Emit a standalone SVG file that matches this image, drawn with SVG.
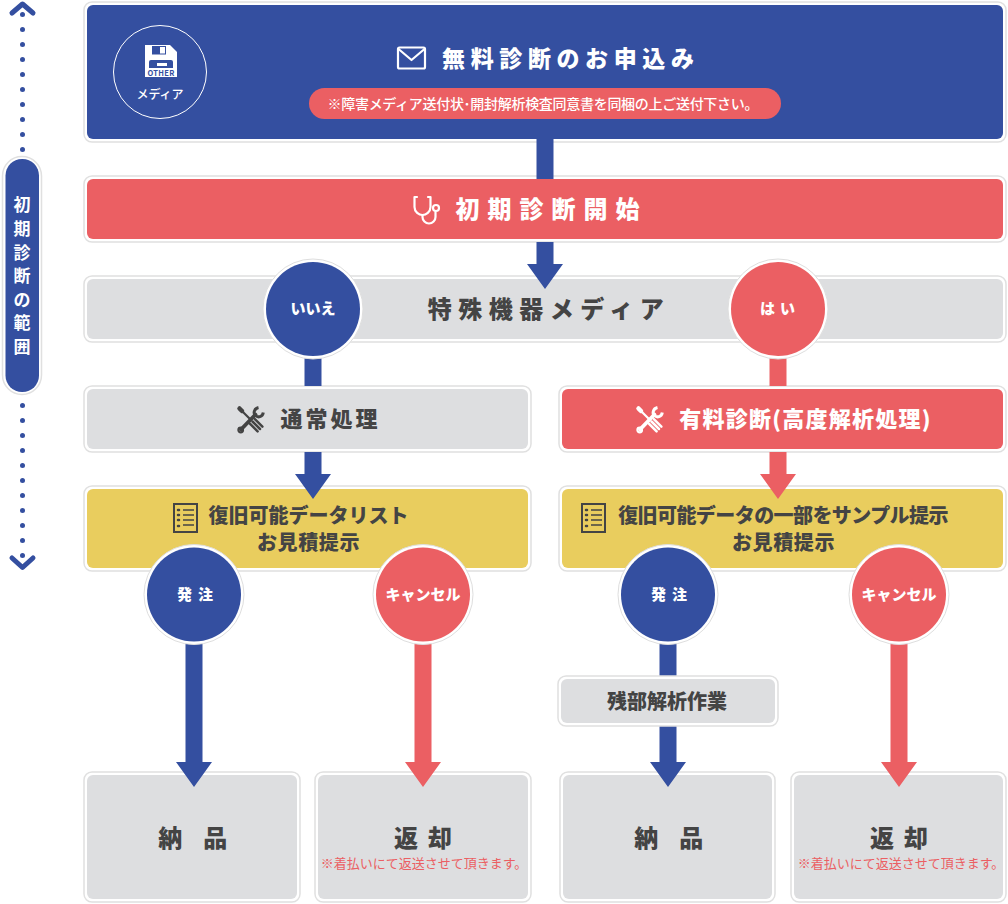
<svg xmlns="http://www.w3.org/2000/svg" width="1008" height="904" viewBox="0 0 1008 904">
<style>
text{font-family:"Noto Sans CJK JP","Noto Sans",sans-serif;font-weight:700;text-anchor:middle;fill:#444}
.w{fill:#fff}
.ring{fill:#fff;stroke:#e0e0e0;stroke-width:1.500}
.blue{fill:#344fa0}.red{fill:#eb5f63}.grey{fill:#dddee0}.yel{fill:#e9cd5e}
.cring{fill:#fff;stroke:#dedede;stroke-width:1}
.dot{fill:#344fa0}
.chev{fill:none;stroke:#344fa0;stroke-width:5;stroke-linecap:round;stroke-linejoin:round}
.ico{fill:none;stroke-width:2.200;stroke-linecap:round;stroke-linejoin:round}
.lb{font-weight:900}
</style>
<defs>
<g id="rowdots"><circle cx="22.5" cy="0" r="2.5" class="dot"/><circle cx="22.5" cy="15" r="2.5" class="dot"/><circle cx="22.5" cy="30" r="2.5" class="dot"/><circle cx="22.5" cy="45" r="2.5" class="dot"/><circle cx="22.5" cy="60" r="2.5" class="dot"/><circle cx="22.5" cy="75" r="2.5" class="dot"/><circle cx="22.5" cy="90" r="2.5" class="dot"/><circle cx="22.5" cy="105" r="2.5" class="dot"/><circle cx="22.5" cy="120" r="2.5" class="dot"/><circle cx="22.5" cy="135" r="2.5" class="dot"/></g>
<g id="tools" fill="none" stroke-linecap="round">
<path d="M2.500 2.500L5 5" stroke-width="4.500"/>
<path d="M4 4L13 13" stroke-width="2.200"/>
<path d="M15.500 15.500L23 23" stroke-width="2.500" transform="translate(2.400 -2.400)"/>
<path d="M15.500 15.500L23 23" stroke-width="2.500"/>
<path d="M15.500 15.500L23 23" stroke-width="2.500" transform="translate(-2.400 2.400)"/>
<path d="M4 23.500L18.500 8.500" stroke-width="3.800"/>
<circle cx="3.700" cy="24" r="2.300" stroke-width="2.200"/>
<path d="M21.500 1.500C17 2.500 16 7.500 18.500 9.500C21 12 25.500 11 26.300 6.500" stroke-width="3" stroke-linecap="butt"/>
</g>
<g id="list" fill="none" stroke="#444" stroke-width="2">
<rect x="1" y="1" width="23" height="28"/>
<path d="M10 7H21M10 12H21M10 17H21M10 22H21" stroke-width="1.500"/>
<path d="M5 7h1M5 12h1M5 17h1M5 23h1" stroke-width="2.500" stroke-linecap="round"/>
</g>
</defs>

<g id="scope">
<path class="chev" d="M12 13L22.500 4L33 13"/>
<use href="#rowdots" y="14.500"/>
<use href="#rowdots" y="405.500"/>
<circle cx="22.500" cy="555.500" r="2.500" class="dot"/>
<path class="chev" d="M12 558L22.500 567.500L33 558"/>
<rect x="2.500" y="156.500" width="39" height="238" rx="19.500" class="ring"/>
<rect x="5.500" y="159" width="33.500" height="233" rx="16.500" class="blue"/>
<text class="w" font-size="17" x="22 22 22 22 22 22 22" y="211 235 258.500 282 306 329 353">初期診断の範囲</text>
</g>

<g id="n-apply">
<rect x="84" y="2" width="922" height="140" rx="8" class="ring"/>
<rect x="87" y="5" width="916" height="134" rx="6" class="blue"/>
<circle cx="160" cy="72" r="46.500" fill="none" stroke="#fff" stroke-width="1"/>
<path class="w" d="M145 45H170L177 52V77H145Z"/>
<rect x="152" y="46" width="14" height="8.500" class="blue"/>
<rect x="160" y="47" width="5" height="6.500" class="w"/>
<path class="blue" d="M151 60Q149 60 149 62V68H173V62Q173 60 171 60Z"/>
<rect x="157" y="63" width="10" height="3" class="w"/>
<text x="161" y="75.500" font-size="7.500" style="fill:#344fa0" letter-spacing=".3">OTHER</text>
<text class="w" x="160" y="99" font-size="12" style="font-weight:500">メディア</text>
<g class="ico" stroke="#fff"><rect x="398" y="47.500" width="27" height="21" rx="1.500"/><path d="M398.500 49L411.500 60L424.500 49"/></g>
<text class="w lb" x="570.800" y="67" font-size="23" letter-spacing="5.600">無料診断のお申込み</text>
<rect x="309" y="88" width="472" height="31" rx="15.500" class="red"/>
<text class="w" x="543" y="109" font-size="14" style="font-weight:500" textLength="431" lengthAdjust="spacing">※障害メディア送付状･開封解析検査同意書を同梱の上ご送付下さい。</text>
</g>

<g id="n-start">
<rect x="84" y="176" width="922" height="66" rx="8" class="ring"/>
<rect x="87" y="179" width="916" height="60" rx="6" class="red"/>
<g class="ico" stroke="#fff"><path d="M417 197H414.500V207C414.500 212 419 215 422.500 215C426 215 430.500 212 430.500 207V197H428"/><path d="M422.500 215V217A6.500 6.500 0 0 0 435.500 217V212"/><circle cx="436" cy="208" r="3"/></g>
<text class="w lb" x="551.500" y="218" font-size="24" letter-spacing="8">初期診断開始</text>
</g>

<g id="n-media">
<rect x="84" y="276" width="922" height="66" rx="8" class="ring"/>
<rect x="87" y="279" width="916" height="60" rx="6" class="grey"/>
<text class="lb" x="549" y="318" font-size="24" letter-spacing="6.500">特殊機器メディア</text>
</g>

<g id="n-normal">
<rect x="84" y="386" width="447" height="66" rx="8" class="ring"/>
<rect x="87" y="389" width="441" height="60" rx="6" class="grey"/>
<use href="#tools" x="237" y="406" stroke="#444"/>
<text class="lb" x="330.500" y="427" font-size="22" letter-spacing="3">通常処理</text>
</g>

<g id="n-paid">
<rect x="559" y="386" width="447" height="66" rx="8" class="ring"/>
<rect x="562" y="389" width="441" height="60" rx="6" class="red"/>
<use href="#tools" x="636" y="406" stroke="#fff"/>
<text class="w lb" x="805.500" y="426.500" font-size="22" letter-spacing="1.250">有料診断(高度解析処理)</text>
</g>

<g id="n-list-left">
<rect x="84" y="486" width="447" height="85" rx="8" class="ring"/>
<rect x="87" y="489" width="441" height="79" rx="6" class="yel"/>
<use href="#list" x="173" y="503"/>
<text class="lb" x="308.500" y="523" font-size="20">復旧可能データリスト</text>
<text class="lb" x="308.500" y="550" font-size="20" letter-spacing=".6">お見積提示</text>
</g>

<g id="n-list-right">
<rect x="559" y="486" width="447" height="85" rx="8" class="ring"/>
<rect x="562" y="489" width="441" height="79" rx="6" class="yel"/>
<use href="#list" x="581" y="503"/>
<text class="lb" x="783" y="523" font-size="20" letter-spacing="-.57">復旧可能データの一部をサンプル提示</text>
<text class="lb" x="783.500" y="550" font-size="20" letter-spacing=".6">お見積提示</text>
</g>

<g id="n-deliver-l">
<rect x="84" y="772" width="216" height="130" rx="8" class="ring"/>
<rect x="87" y="775" width="210" height="124" rx="6" class="grey"/>
<text class="lb" x="192" y="847" font-size="24" letter-spacing="-1.500">納　品</text>
</g>
<g id="n-return-l">
<rect x="315" y="772" width="216" height="130" rx="8" class="ring"/>
<rect x="318" y="775" width="210" height="124" rx="6" class="grey"/>
<text class="lb" x="428" y="847" font-size="24" letter-spacing="10">返却</text>
<text x="424" y="867.500" font-size="13" style="fill:#eb5f63;font-weight:400">※着払いにて返送させて頂きます。</text>
</g>
<g id="n-deliver-r">
<rect x="560" y="772" width="215" height="130" rx="8" class="ring"/>
<rect x="563" y="775" width="209" height="124" rx="6" class="grey"/>
<text class="lb" x="668" y="847" font-size="24" letter-spacing="-1.500">納　品</text>
</g>
<g id="n-return-r">
<rect x="791" y="772" width="215" height="130" rx="8" class="ring"/>
<rect x="794" y="775" width="209" height="124" rx="6" class="grey"/>
<text class="lb" x="904" y="847" font-size="24" letter-spacing="10">返却</text>
<text x="901" y="867.500" font-size="13" style="fill:#eb5f63;font-weight:400">※着払いにて返送させて頂きます。</text>
</g>

<g id="connectors">
<path class="blue" d="M536.500 139H553.500V179H536.500Z"/>
<path class="blue" d="M536.500 242H553.500V264H563L545 289L527 264H536.500Z"/>
<path class="blue" d="M304.500 350H321.500V386H304.500Z"/>
<path class="red" d="M769.500 350H786.500V386H769.500Z"/>
<path class="blue" d="M304.500 452H321.500V474H331L313 499L295 474H304.500Z"/>
<path class="red" d="M769.500 452H786.500V474H796L778 499L760 474H769.500Z"/>
<path class="blue" d="M185.500 640H202.500V762H212L194 787L176 762H185.500Z"/>
<path class="red" d="M414.500 640H431.500V762H441L423 787L405 762H414.500Z"/>
<path class="blue" d="M659.500 640H676.500V676H659.500Z"/>
<path class="blue" d="M659.500 726H676.500V762H686L668 787L650 762H659.500Z"/>
<path class="red" d="M890.500 640H907.500V762H917L899 787L881 762H890.500Z"/>
</g>

<g id="n-rest">
<rect x="558" y="676" width="220" height="50" rx="8" class="ring"/>
<rect x="561" y="679" width="214" height="44" rx="6" class="grey"/>
<text class="lb" x="667" y="709" font-size="20">残部解析作業</text>
</g>

<g id="n-no"><circle cx="313" cy="309" r="50" class="cring"/><circle cx="313" cy="309" r="47" class="blue"/><text class="w lb" x="313" y="314" font-size="15">いいえ</text></g>
<g id="n-yes"><circle cx="778" cy="309" r="50" class="cring"/><circle cx="778" cy="309" r="47" class="red"/><text class="w lb" x="780" y="314" font-size="15" letter-spacing="5">はい</text></g>
<g id="n-order-l"><circle cx="194" cy="594.500" r="50" class="cring"/><circle cx="194" cy="594.500" r="47" class="blue"/><text class="w lb" x="198" y="600" font-size="15" letter-spacing="6">発注</text></g>
<g id="n-cancel-l"><circle cx="423" cy="594.500" r="50" class="cring"/><circle cx="423" cy="594.500" r="47" class="red"/><text class="w lb" x="423" y="600" font-size="15">キャンセル</text></g>
<g id="n-order-r"><circle cx="668" cy="594.500" r="50" class="cring"/><circle cx="668" cy="594.500" r="47" class="blue"/><text class="w lb" x="672" y="600" font-size="15" letter-spacing="6">発注</text></g>
<g id="n-cancel-r"><circle cx="899" cy="594.500" r="50" class="cring"/><circle cx="899" cy="594.500" r="47" class="red"/><text class="w lb" x="899" y="600" font-size="15">キャンセル</text></g>
</svg>
